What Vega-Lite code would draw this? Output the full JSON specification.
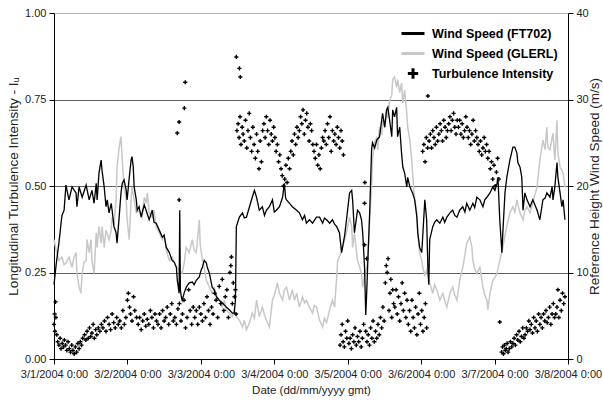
{
"$schema": "https://vega.github.io/schema/vega-lite/v6.json",
"width": 514, "height": 346,
"autosize": {"type": "none"},
"padding": {"left": 54, "top": 13, "right": 35, "bottom": 44},
"background": "white",
"config": {
  "view": {"stroke": null},
  "font": "Liberation Sans",
  "axis": {"domainColor": "black", "tickColor": "black", "labelColor": "#222", "titleColor": "#222", "labelFont": "Liberation Sans", "titleFont": "Liberation Sans", "titleFontWeight": "normal", "labelFontSize": 11, "tickSize": 5, "domainWidth": 1, "tickWidth": 1, "labelPadding": 3},
  "legend": {"orient": "none", "legendX": 346, "legendY": 7.5, "symbolSize": 529, "symbolStrokeWidth": 3, "labelFont": "Liberation Sans", "labelFontSize": 12.5, "labelFontWeight": "bold", "labelColor": "black", "labelOffset": 6, "rowPadding": 0, "padding": 0, "labelLimit": 300}
},
"datasets": {
"ft": [{"h":0,"v":8.6},{"h":0.7,"v":10.9},{"h":1.6,"v":13.4},{"h":2.6,"v":16.6},{"h":3.3,"v":17.2},{"h":3.9,"v":20.1},{"h":4.9,"v":18.4},{"h":5.9,"v":19.9},{"h":7.2,"v":19.2},{"h":7.5,"v":17.6},{"h":8.2,"v":19.9},{"h":9.2,"v":18.7},{"h":10.5,"v":20.1},{"h":11.5,"v":18.4},{"h":12.4,"v":19.5},{"h":13.1,"v":18.0},{"h":13.8,"v":20.3},{"h":14.1,"v":18.4},{"h":14.7,"v":21.5},{"h":15.4,"v":23.0},{"h":15.7,"v":21.8},{"h":16.4,"v":19.9},{"h":17.0,"v":17.6},{"h":17.4,"v":18.4},{"h":18.0,"v":16.9},{"h":18.7,"v":18.0},{"h":19.0,"v":17.2},{"h":19.6,"v":15.3},{"h":20.3,"v":14.6},{"h":20.6,"v":13.4},{"h":21.3,"v":16.4},{"h":21.9,"v":19.2},{"h":22.3,"v":20.3},{"h":22.9,"v":20.7},{"h":23.6,"v":19.5},{"h":23.9,"v":18.4},{"h":24.6,"v":21.0},{"h":25.2,"v":23.0},{"h":25.5,"v":23.4},{"h":25.9,"v":22.2},{"h":26.2,"v":19.9},{"h":26.9,"v":18.4},{"h":27.2,"v":17.2},{"h":27.8,"v":17.6},{"h":28.5,"v":16.4},{"h":28.8,"v":16.9},{"h":29.5,"v":17.8},{"h":30.1,"v":17.2},{"h":31.1,"v":16.1},{"h":32.1,"v":17.2},{"h":32.7,"v":15.8},{"h":33.4,"v":15.7},{"h":34.4,"v":14.9},{"h":35.4,"v":14.1},{"h":36.0,"v":14.3},{"h":36.7,"v":12.9},{"h":37.7,"v":12.3},{"h":38.6,"v":11.4},{"h":39.3,"v":11.2},{"h":40.0,"v":10.6},{"h":40.3,"v":9.1},{"h":40.9,"v":7.6},{"h":41.1,"v":17.2},{"h":41.3,"v":8.0},{"h":41.6,"v":7.2},{"h":41.9,"v":6.8},{"h":42.6,"v":7.7},{"h":43.2,"v":8.3},{"h":44.2,"v":8.8},{"h":45.2,"v":8.9},{"h":45.8,"v":8.6},{"h":46.5,"v":9.1},{"h":47.5,"v":9.5},{"h":48.1,"v":10.3},{"h":48.5,"v":10.6},{"h":49.1,"v":11.4},{"h":49.8,"v":11.1},{"h":50.1,"v":10.6},{"h":50.8,"v":9.9},{"h":51.7,"v":8.3},{"h":52.4,"v":8.0},{"h":53.1,"v":7.2},{"h":54.0,"v":6.8},{"h":55.0,"v":6.5},{"h":56.3,"v":6.0},{"h":57.3,"v":5.7},{"h":58.3,"v":5.3},{"h":58.9,"v":5.3},{"h":59.3,"v":6.8},{"h":59.6,"v":15.3},{"h":60.6,"v":16.4},{"h":61.6,"v":16.9},{"h":62.2,"v":16.3},{"h":62.9,"v":16.4},{"h":63.9,"v":17.6},{"h":64.8,"v":18.7},{"h":65.5,"v":19.5},{"h":66.2,"v":18.7},{"h":67.1,"v":17.2},{"h":68.1,"v":17.6},{"h":68.8,"v":16.6},{"h":69.4,"v":17.2},{"h":70.4,"v":17.6},{"h":71.4,"v":18.4},{"h":72.0,"v":17.0},{"h":72.7,"v":17.2},{"h":73.7,"v":17.6},{"h":74.7,"v":18.7},{"h":75.3,"v":20.3},{"h":75.7,"v":18.6},{"h":76.0,"v":18.4},{"h":77.0,"v":18.0},{"h":77.9,"v":17.6},{"h":79.3,"v":17.2},{"h":80.2,"v":16.9},{"h":81.2,"v":16.1},{"h":81.9,"v":16.6},{"h":82.5,"v":15.7},{"h":83.5,"v":16.1},{"h":84.5,"v":15.7},{"h":85.8,"v":16.4},{"h":86.8,"v":16.4},{"h":87.8,"v":15.7},{"h":88.4,"v":16.3},{"h":89.1,"v":16.1},{"h":90.1,"v":15.7},{"h":91.0,"v":16.1},{"h":91.7,"v":15.6},{"h":92.4,"v":15.3},{"h":93.3,"v":14.6},{"h":94.0,"v":12.3},{"h":94.3,"v":12.9},{"h":95.0,"v":14.3},{"h":95.6,"v":16.1},{"h":96.6,"v":19.2},{"h":97.3,"v":19.5},{"h":97.6,"v":18.4},{"h":98.2,"v":14.6},{"h":98.9,"v":16.4},{"h":99.2,"v":17.2},{"h":99.9,"v":16.9},{"h":100.5,"v":16.1},{"h":100.9,"v":14.6},{"h":101.5,"v":10.6},{"h":101.9,"v":5.1},{"h":102.2,"v":7.6},{"h":102.5,"v":10.6},{"h":103.2,"v":17.2},{"h":103.8,"v":24.2},{"h":104.1,"v":25.0},{"h":104.8,"v":24.4},{"h":105.5,"v":25.3},{"h":106.4,"v":25.7},{"h":107.1,"v":27.6},{"h":107.4,"v":28.4},{"h":108.1,"v":26.8},{"h":108.7,"v":28.8},{"h":109.1,"v":29.1},{"h":109.7,"v":27.6},{"h":110.4,"v":25.7},{"h":110.7,"v":28.8},{"h":111.3,"v":28.0},{"h":112.0,"v":29.1},{"h":112.3,"v":25.7},{"h":113.0,"v":26.8},{"h":113.6,"v":23.8},{"h":114.0,"v":22.2},{"h":114.6,"v":21.5},{"h":115.3,"v":19.9},{"h":115.6,"v":21.0},{"h":116.3,"v":19.9},{"h":117.2,"v":19.2},{"h":117.9,"v":18.4},{"h":118.6,"v":16.4},{"h":118.9,"v":14.6},{"h":119.5,"v":12.9},{"h":120.2,"v":12.3},{"h":120.5,"v":14.1},{"h":121.2,"v":18.4},{"h":121.8,"v":16.1},{"h":122.2,"v":10.6},{"h":122.5,"v":8.6},{"h":122.8,"v":13.8},{"h":123.8,"v":15.3},{"h":124.4,"v":15.8},{"h":125.1,"v":16.1},{"h":126.1,"v":15.7},{"h":127.1,"v":16.4},{"h":127.7,"v":15.8},{"h":128.4,"v":16.4},{"h":129.4,"v":16.9},{"h":130.3,"v":17.2},{"h":131.0,"v":16.6},{"h":131.7,"v":16.4},{"h":132.6,"v":17.2},{"h":133.6,"v":17.6},{"h":134.3,"v":17.0},{"h":134.9,"v":18.0},{"h":135.9,"v":17.2},{"h":136.9,"v":18.0},{"h":137.5,"v":17.5},{"h":138.2,"v":18.7},{"h":139.2,"v":18.4},{"h":140.2,"v":17.6},{"h":140.8,"v":18.4},{"h":141.5,"v":18.7},{"h":142.5,"v":19.2},{"h":143.4,"v":19.9},{"h":144.1,"v":19.5},{"h":144.8,"v":20.3},{"h":145.1,"v":21.0},{"h":145.7,"v":16.1},{"h":146.4,"v":12.3},{"h":146.7,"v":14.6},{"h":147.4,"v":19.2},{"h":148.0,"v":21.0},{"h":149.0,"v":23.0},{"h":150.0,"v":24.5},{"h":150.6,"v":24.5},{"h":151.3,"v":23.8},{"h":151.6,"v":22.7},{"h":152.3,"v":22.2},{"h":152.9,"v":21.0},{"h":153.3,"v":17.2},{"h":153.9,"v":19.2},{"h":154.6,"v":18.4},{"h":155.6,"v":17.6},{"h":156.5,"v":18.4},{"h":157.2,"v":17.8},{"h":157.9,"v":17.2},{"h":158.8,"v":16.1},{"h":159.8,"v":18.4},{"h":160.5,"v":18.6},{"h":161.1,"v":19.2},{"h":162.1,"v":18.7},{"h":162.8,"v":19.9},{"h":163.1,"v":18.4},{"h":163.7,"v":19.9},{"h":164.4,"v":22.7},{"h":164.7,"v":21.0},{"h":165.4,"v":19.2},{"h":166.0,"v":17.6},{"h":166.4,"v":18.4},{"h":167.0,"v":16.1}],
"gl": [{"h":0,"v":13.8},{"h":0.7,"v":12.6},{"h":1.6,"v":11.4},{"h":2.6,"v":11.8},{"h":3.3,"v":10.9},{"h":3.9,"v":11.1},{"h":4.9,"v":11.8},{"h":5.9,"v":10.6},{"h":6.5,"v":11.7},{"h":7.2,"v":12.3},{"h":7.5,"v":9.9},{"h":8.2,"v":8.3},{"h":8.8,"v":7.6},{"h":9.2,"v":9.9},{"h":9.8,"v":11.2},{"h":10.5,"v":11.4},{"h":10.8,"v":13.8},{"h":11.5,"v":12.3},{"h":12.1,"v":13.8},{"h":12.4,"v":11.4},{"h":13.1,"v":9.9},{"h":13.8,"v":14.6},{"h":14.1,"v":12.9},{"h":14.7,"v":15.3},{"h":15.4,"v":13.4},{"h":15.7,"v":15.3},{"h":16.4,"v":12.9},{"h":17.0,"v":14.9},{"h":18.0,"v":13.8},{"h":18.7,"v":14.9},{"h":19.0,"v":16.4},{"h":19.6,"v":15.5},{"h":20.3,"v":18.4},{"h":20.6,"v":22.2},{"h":21.3,"v":24.5},{"h":21.9,"v":25.7},{"h":22.3,"v":23.0},{"h":22.9,"v":19.9},{"h":23.6,"v":18.4},{"h":23.9,"v":16.1},{"h":24.6,"v":13.8},{"h":25.2,"v":18.4},{"h":25.5,"v":19.9},{"h":26.2,"v":18.4},{"h":26.9,"v":16.9},{"h":27.8,"v":17.2},{"h":28.8,"v":16.4},{"h":29.5,"v":18.7},{"h":30.1,"v":18.0},{"h":30.5,"v":19.2},{"h":31.1,"v":16.9},{"h":32.1,"v":16.4},{"h":32.7,"v":17.2},{"h":33.4,"v":15.3},{"h":34.4,"v":14.6},{"h":35.4,"v":13.8},{"h":36.0,"v":14.3},{"h":36.7,"v":12.6},{"h":37.7,"v":11.4},{"h":38.6,"v":11.8},{"h":39.3,"v":11.2},{"h":40.0,"v":10.6},{"h":40.9,"v":10.3},{"h":41.9,"v":9.9},{"h":42.6,"v":11.2},{"h":43.2,"v":12.9},{"h":44.2,"v":12.3},{"h":45.2,"v":13.8},{"h":45.8,"v":12.6},{"h":46.5,"v":12.3},{"h":47.2,"v":14.9},{"h":47.5,"v":16.1},{"h":47.8,"v":13.2},{"h":48.5,"v":11.4},{"h":49.1,"v":10.5},{"h":49.8,"v":9.1},{"h":50.8,"v":8.3},{"h":51.7,"v":7.6},{"h":52.4,"v":8.2},{"h":53.1,"v":7.2},{"h":54.0,"v":6.8},{"h":55.0,"v":6.0},{"h":55.7,"v":6.8},{"h":56.3,"v":5.7},{"h":57.3,"v":5.3},{"h":58.3,"v":4.9},{"h":58.9,"v":5.7},{"h":59.6,"v":4.9},{"h":60.6,"v":4.5},{"h":61.6,"v":3.7},{"h":62.2,"v":4.5},{"h":62.9,"v":3.4},{"h":63.9,"v":4.2},{"h":64.8,"v":5.3},{"h":65.5,"v":4.7},{"h":66.2,"v":6.8},{"h":67.1,"v":4.9},{"h":68.1,"v":6.0},{"h":68.8,"v":5.1},{"h":69.4,"v":4.5},{"h":70.4,"v":3.7},{"h":71.4,"v":6.8},{"h":72.0,"v":7.4},{"h":72.7,"v":8.3},{"h":73.0,"v":8.8},{"h":73.7,"v":7.6},{"h":74.7,"v":6.8},{"h":75.3,"v":8.0},{"h":76.0,"v":8.3},{"h":77.0,"v":6.8},{"h":77.9,"v":8.0},{"h":78.6,"v":6.8},{"h":79.3,"v":7.6},{"h":80.2,"v":6.0},{"h":81.2,"v":7.2},{"h":81.9,"v":6.5},{"h":82.5,"v":6.8},{"h":83.5,"v":6.0},{"h":84.5,"v":5.3},{"h":85.1,"v":6.2},{"h":85.8,"v":6.0},{"h":86.8,"v":4.5},{"h":87.8,"v":3.7},{"h":88.4,"v":4.7},{"h":89.1,"v":4.2},{"h":90.1,"v":5.7},{"h":91.0,"v":6.8},{"h":91.7,"v":6.0},{"h":92.4,"v":9.5},{"h":92.7,"v":11.4},{"h":93.3,"v":11.8},{"h":94.3,"v":12.9},{"h":95.0,"v":13.8},{"h":95.6,"v":14.6},{"h":96.0,"v":15.3},{"h":96.6,"v":16.4},{"h":97.3,"v":15.3},{"h":97.6,"v":12.9},{"h":98.2,"v":14.6},{"h":98.9,"v":12.3},{"h":99.2,"v":11.4},{"h":99.9,"v":10.6},{"h":100.5,"v":9.9},{"h":100.9,"v":8.3},{"h":101.5,"v":9.5},{"h":102.2,"v":10.6},{"h":102.5,"v":11.4},{"h":103.2,"v":16.1},{"h":103.8,"v":19.9},{"h":104.1,"v":23.0},{"h":104.8,"v":25.0},{"h":105.5,"v":25.7},{"h":105.8,"v":24.2},{"h":106.4,"v":26.8},{"h":107.1,"v":25.9},{"h":107.4,"v":27.6},{"h":108.1,"v":26.7},{"h":108.7,"v":28.8},{"h":109.1,"v":27.9},{"h":109.7,"v":29.9},{"h":110.4,"v":30.5},{"h":110.7,"v":32.3},{"h":111.3,"v":32.6},{"h":112.0,"v":31.4},{"h":112.3,"v":32.3},{"h":113.0,"v":30.8},{"h":113.6,"v":31.9},{"h":114.0,"v":29.6},{"h":114.6,"v":31.1},{"h":115.3,"v":28.4},{"h":115.6,"v":26.8},{"h":116.3,"v":25.3},{"h":116.9,"v":23.0},{"h":117.2,"v":21.5},{"h":117.9,"v":18.4},{"h":118.6,"v":16.9},{"h":118.9,"v":14.6},{"h":119.5,"v":12.3},{"h":120.2,"v":11.4},{"h":120.5,"v":10.6},{"h":121.2,"v":9.7},{"h":121.8,"v":10.3},{"h":122.8,"v":8.8},{"h":123.8,"v":7.6},{"h":124.4,"v":8.6},{"h":125.1,"v":8.0},{"h":126.1,"v":6.8},{"h":127.1,"v":7.6},{"h":127.7,"v":6.8},{"h":128.4,"v":6.0},{"h":129.4,"v":7.6},{"h":130.3,"v":8.3},{"h":131.0,"v":7.4},{"h":131.7,"v":6.8},{"h":132.6,"v":9.1},{"h":133.6,"v":10.6},{"h":134.3,"v":12.0},{"h":134.9,"v":13.4},{"h":135.9,"v":14.1},{"h":136.6,"v":12.9},{"h":136.9,"v":11.4},{"h":137.5,"v":10.5},{"h":138.2,"v":9.9},{"h":139.2,"v":10.6},{"h":140.2,"v":8.3},{"h":140.8,"v":7.4},{"h":141.5,"v":6.8},{"h":141.8,"v":5.7},{"h":142.5,"v":7.6},{"h":143.4,"v":9.1},{"h":144.1,"v":9.4},{"h":144.8,"v":9.9},{"h":145.7,"v":11.4},{"h":146.7,"v":12.9},{"h":147.4,"v":14.3},{"h":148.0,"v":15.3},{"h":149.0,"v":16.9},{"h":150.0,"v":17.6},{"h":150.6,"v":17.0},{"h":151.3,"v":18.4},{"h":152.3,"v":16.9},{"h":153.3,"v":16.1},{"h":153.9,"v":17.2},{"h":154.6,"v":17.6},{"h":155.6,"v":16.9},{"h":156.5,"v":18.0},{"h":157.2,"v":19.0},{"h":157.9,"v":19.9},{"h":158.8,"v":23.0},{"h":159.8,"v":25.3},{"h":160.5,"v":24.2},{"h":161.1,"v":26.8},{"h":161.4,"v":24.5},{"h":162.1,"v":24.2},{"h":163.1,"v":26.1},{"h":163.7,"v":23.0},{"h":164.4,"v":27.6},{"h":164.7,"v":23.8},{"h":165.4,"v":22.2},{"h":166.4,"v":21.5},{"h":167.0,"v":19.9}],
"ti": [{"h":0.0,"v":0.10},{"h":0.2,"v":0.13},{"h":0.3,"v":0.08},{"h":0.5,"v":0.165},{"h":0.6,"v":0.12},{"h":0.9,"v":0.07},{"h":1.2,"v":0.05},{"h":1.6,"v":0.04},{"h":2.0,"v":0.06},{"h":2.3,"v":0.03},{"h":2.7,"v":0.045},{"h":3.1,"v":0.035},{"h":3.4,"v":0.055},{"h":3.8,"v":0.04},{"h":4.2,"v":0.025},{"h":4.6,"v":0.05},{"h":5.0,"v":0.03},{"h":5.4,"v":0.02},{"h":5.8,"v":0.04},{"h":6.2,"v":0.025},{"h":6.6,"v":0.015},{"h":7.0,"v":0.035},{"h":7.4,"v":0.02},{"h":7.8,"v":0.045},{"h":8.2,"v":0.03},{"h":8.6,"v":0.05},{"h":9.0,"v":0.04},{"h":9.4,"v":0.06},{"h":10.0,"v":0.07},{"h":10.4,"v":0.055},{"h":10.8,"v":0.08},{"h":11.2,"v":0.06},{"h":11.6,"v":0.09},{"h":12.0,"v":0.065},{"h":12.4,"v":0.075},{"h":12.8,"v":0.1},{"h":13.2,"v":0.06},{"h":13.6,"v":0.085},{"h":14.0,"v":0.07},{"h":14.5,"v":0.09},{"h":15.0,"v":0.08},{"h":15.5,"v":0.1},{"h":16.0,"v":0.09},{"h":16.5,"v":0.11},{"h":17.0,"v":0.08},{"h":17.5,"v":0.12},{"h":18.0,"v":0.1},{"h":18.5,"v":0.085},{"h":19.0,"v":0.13},{"h":19.5,"v":0.105},{"h":20.0,"v":0.09},{"h":20.5,"v":0.12},{"h":21.0,"v":0.1},{"h":21.5,"v":0.11},{"h":22.0,"v":0.09},{"h":22.5,"v":0.14},{"h":23.0,"v":0.1},{"h":23.5,"v":0.12},{"h":24.0,"v":0.17},{"h":24.3,"v":0.19},{"h":24.7,"v":0.15},{"h":25.0,"v":0.13},{"h":25.5,"v":0.11},{"h":26.0,"v":0.18},{"h":26.4,"v":0.14},{"h":27.0,"v":0.12},{"h":27.5,"v":0.1},{"h":28.0,"v":0.12},{"h":28.5,"v":0.085},{"h":29.0,"v":0.11},{"h":29.5,"v":0.13},{"h":30.0,"v":0.095},{"h":30.5,"v":0.115},{"h":31.0,"v":0.1},{"h":31.5,"v":0.14},{"h":32.0,"v":0.12},{"h":32.5,"v":0.09},{"h":33.0,"v":0.13},{"h":33.5,"v":0.11},{"h":34.0,"v":0.1},{"h":34.5,"v":0.13},{"h":35.0,"v":0.09},{"h":35.5,"v":0.14},{"h":36.0,"v":0.11},{"h":36.5,"v":0.12},{"h":37.0,"v":0.15},{"h":37.5,"v":0.1},{"h":38.0,"v":0.13},{"h":38.5,"v":0.16},{"h":39.0,"v":0.11},{"h":39.5,"v":0.12},{"h":40.0,"v":0.1},{"h":40.5,"v":0.145},{"h":41.0,"v":0.16},{"h":41.5,"v":0.11},{"h":42.0,"v":0.13},{"h":42.5,"v":0.17},{"h":43.0,"v":0.09},{"h":43.5,"v":0.12},{"h":44.0,"v":0.2},{"h":44.5,"v":0.14},{"h":45.0,"v":0.1},{"h":45.5,"v":0.15},{"h":46.0,"v":0.12},{"h":46.5,"v":0.14},{"h":47.0,"v":0.1},{"h":47.5,"v":0.15},{"h":48.0,"v":0.13},{"h":48.5,"v":0.11},{"h":49.0,"v":0.16},{"h":49.5,"v":0.12},{"h":50.0,"v":0.18},{"h":50.5,"v":0.14},{"h":51.0,"v":0.1},{"h":51.5,"v":0.15},{"h":52.0,"v":0.13},{"h":52.5,"v":0.19},{"h":53.0,"v":0.17},{"h":53.5,"v":0.12},{"h":54.0,"v":0.21},{"h":54.5,"v":0.16},{"h":55.0,"v":0.23},{"h":55.5,"v":0.14},{"h":56.0,"v":0.18},{"h":56.5,"v":0.2},{"h":57.0,"v":0.12},{"h":57.5,"v":0.25},{"h":57.8,"v":0.27},{"h":58.0,"v":0.295},{"h":58.3,"v":0.16},{"h":58.6,"v":0.22},{"h":59.0,"v":0.18},{"h":59.3,"v":0.2},{"h":59.5,"v":0.13},{"h":40.3,"v":0.653},{"h":40.9,"v":0.685},{"h":40.9,"v":0.46},{"h":42.6,"v":0.725},{"h":42.9,"v":0.80},{"h":59.6,"v":0.873},{"h":60.6,"v":0.84},{"h":60.9,"v":0.815},{"h":59.8,"v":0.66},{"h":60.2,"v":0.68},{"h":60.5,"v":0.64},{"h":60.8,"v":0.7},{"h":61.1,"v":0.62},{"h":61.5,"v":0.67},{"h":61.8,"v":0.65},{"h":62.2,"v":0.63},{"h":62.6,"v":0.69},{"h":63.0,"v":0.61},{"h":63.4,"v":0.66},{"h":63.8,"v":0.71},{"h":64.2,"v":0.64},{"h":64.6,"v":0.6},{"h":65.0,"v":0.67},{"h":65.4,"v":0.62},{"h":65.8,"v":0.58},{"h":66.2,"v":0.65},{"h":66.6,"v":0.6},{"h":67.0,"v":0.55},{"h":67.4,"v":0.63},{"h":67.8,"v":0.57},{"h":68.2,"v":0.66},{"h":68.6,"v":0.68},{"h":69.0,"v":0.64},{"h":69.4,"v":0.7},{"h":69.8,"v":0.66},{"h":70.2,"v":0.62},{"h":70.6,"v":0.69},{"h":71.0,"v":0.65},{"h":71.4,"v":0.63},{"h":71.8,"v":0.67},{"h":72.2,"v":0.64},{"h":72.6,"v":0.6},{"h":73.0,"v":0.62},{"h":73.4,"v":0.57},{"h":73.8,"v":0.59},{"h":74.2,"v":0.55},{"h":74.6,"v":0.53},{"h":75.0,"v":0.5},{"h":75.4,"v":0.52},{"h":75.8,"v":0.56},{"h":76.2,"v":0.51},{"h":76.6,"v":0.58},{"h":77.0,"v":0.55},{"h":77.4,"v":0.6},{"h":77.8,"v":0.63},{"h":78.2,"v":0.59},{"h":78.6,"v":0.65},{"h":79.0,"v":0.62},{"h":79.4,"v":0.67},{"h":79.8,"v":0.64},{"h":80.2,"v":0.66},{"h":80.6,"v":0.7},{"h":81.0,"v":0.68},{"h":81.4,"v":0.72},{"h":81.8,"v":0.65},{"h":82.2,"v":0.69},{"h":82.6,"v":0.71},{"h":83.0,"v":0.67},{"h":83.4,"v":0.63},{"h":83.8,"v":0.68},{"h":84.2,"v":0.66},{"h":84.6,"v":0.62},{"h":85.0,"v":0.6},{"h":85.4,"v":0.58},{"h":85.8,"v":0.62},{"h":86.2,"v":0.56},{"h":86.6,"v":0.59},{"h":87.0,"v":0.55},{"h":87.4,"v":0.61},{"h":87.8,"v":0.64},{"h":88.2,"v":0.63},{"h":88.6,"v":0.66},{"h":89.0,"v":0.62},{"h":89.4,"v":0.68},{"h":89.8,"v":0.64},{"h":90.2,"v":0.7},{"h":90.6,"v":0.6},{"h":91.0,"v":0.66},{"h":91.4,"v":0.63},{"h":91.8,"v":0.65},{"h":92.2,"v":0.62},{"h":92.6,"v":0.67},{"h":93.0,"v":0.64},{"h":93.4,"v":0.61},{"h":93.8,"v":0.66},{"h":94.2,"v":0.63},{"h":94.6,"v":0.59},{"h":93.5,"v":0.04},{"h":93.8,"v":0.07},{"h":94.2,"v":0.1},{"h":94.5,"v":0.05},{"h":94.9,"v":0.035},{"h":95.3,"v":0.08},{"h":95.7,"v":0.06},{"h":96.0,"v":0.11},{"h":96.4,"v":0.045},{"h":96.8,"v":0.06},{"h":97.2,"v":0.03},{"h":97.6,"v":0.07},{"h":98.0,"v":0.05},{"h":98.4,"v":0.09},{"h":98.8,"v":0.04},{"h":99.2,"v":0.065},{"h":99.6,"v":0.05},{"h":100.0,"v":0.08},{"h":100.4,"v":0.035},{"h":100.8,"v":0.06},{"h":101.2,"v":0.1},{"h":101.5,"v":0.33},{"h":101.5,"v":0.45},{"h":101.6,"v":0.51},{"h":102.2,"v":0.29},{"h":101.9,"v":0.08},{"h":102.3,"v":0.05},{"h":102.7,"v":0.07},{"h":103.1,"v":0.04},{"h":103.5,"v":0.09},{"h":103.9,"v":0.06},{"h":104.3,"v":0.11},{"h":104.7,"v":0.05},{"h":105.1,"v":0.08},{"h":105.5,"v":0.06},{"h":105.9,"v":0.1},{"h":106.3,"v":0.07},{"h":106.7,"v":0.12},{"h":107.1,"v":0.09},{"h":107.5,"v":0.15},{"h":107.9,"v":0.11},{"h":108.3,"v":0.22},{"h":108.6,"v":0.27},{"h":108.9,"v":0.25},{"h":109.2,"v":0.29},{"h":109.5,"v":0.14},{"h":109.8,"v":0.19},{"h":110.1,"v":0.23},{"h":110.4,"v":0.12},{"h":110.7,"v":0.2},{"h":111.0,"v":0.16},{"h":111.4,"v":0.15},{"h":111.8,"v":0.2},{"h":112.2,"v":0.13},{"h":112.6,"v":0.18},{"h":113.0,"v":0.11},{"h":113.4,"v":0.16},{"h":113.8,"v":0.22},{"h":114.2,"v":0.14},{"h":114.6,"v":0.19},{"h":115.0,"v":0.12},{"h":115.4,"v":0.17},{"h":115.8,"v":0.1},{"h":116.2,"v":0.14},{"h":116.6,"v":0.08},{"h":117.0,"v":0.17},{"h":117.4,"v":0.12},{"h":117.8,"v":0.09},{"h":118.2,"v":0.15},{"h":118.6,"v":0.07},{"h":119.0,"v":0.13},{"h":119.4,"v":0.19},{"h":119.8,"v":0.1},{"h":120.2,"v":0.14},{"h":120.6,"v":0.08},{"h":121.0,"v":0.12},{"h":121.4,"v":0.16},{"h":121.8,"v":0.09},{"h":120.5,"v":0.6},{"h":120.9,"v":0.62},{"h":121.3,"v":0.57},{"h":121.7,"v":0.64},{"h":122.1,"v":0.61},{"h":122.2,"v":0.76},{"h":122.6,"v":0.63},{"h":123.0,"v":0.65},{"h":123.4,"v":0.61},{"h":123.8,"v":0.66},{"h":124.2,"v":0.64},{"h":124.6,"v":0.62},{"h":125.0,"v":0.67},{"h":125.4,"v":0.63},{"h":125.8,"v":0.65},{"h":126.2,"v":0.68},{"h":126.6,"v":0.66},{"h":127.0,"v":0.63},{"h":127.4,"v":0.69},{"h":127.8,"v":0.67},{"h":128.2,"v":0.64},{"h":128.6,"v":0.66},{"h":129.0,"v":0.68},{"h":129.4,"v":0.7},{"h":129.8,"v":0.66},{"h":130.2,"v":0.69},{"h":130.6,"v":0.71},{"h":131.0,"v":0.67},{"h":131.4,"v":0.65},{"h":131.8,"v":0.69},{"h":132.2,"v":0.67},{"h":132.6,"v":0.69},{"h":133.0,"v":0.65},{"h":133.4,"v":0.68},{"h":133.8,"v":0.64},{"h":134.2,"v":0.66},{"h":134.6,"v":0.7},{"h":135.0,"v":0.67},{"h":135.4,"v":0.64},{"h":135.8,"v":0.66},{"h":136.2,"v":0.62},{"h":136.6,"v":0.65},{"h":137.0,"v":0.69},{"h":137.4,"v":0.63},{"h":137.8,"v":0.66},{"h":138.2,"v":0.64},{"h":138.6,"v":0.62},{"h":139.0,"v":0.6},{"h":139.4,"v":0.63},{"h":139.8,"v":0.59},{"h":140.2,"v":0.61},{"h":140.6,"v":0.64},{"h":141.0,"v":0.6},{"h":141.4,"v":0.62},{"h":141.8,"v":0.58},{"h":142.2,"v":0.6},{"h":142.6,"v":0.55},{"h":143.0,"v":0.57},{"h":143.4,"v":0.52},{"h":143.8,"v":0.56},{"h":144.2,"v":0.5},{"h":144.6,"v":0.54},{"h":145.0,"v":0.58},{"h":145.4,"v":0.52},{"h":145.7,"v":0.107},{"h":146.3,"v":0.02},{"h":146.6,"v":0.035},{"h":146.9,"v":0.015},{"h":147.2,"v":0.04},{"h":147.5,"v":0.025},{"h":147.8,"v":0.03},{"h":148.1,"v":0.045},{"h":148.4,"v":0.02},{"h":148.8,"v":0.03},{"h":149.2,"v":0.05},{"h":149.6,"v":0.035},{"h":150.0,"v":0.045},{"h":150.4,"v":0.06},{"h":150.8,"v":0.04},{"h":151.2,"v":0.07},{"h":151.6,"v":0.055},{"h":152.0,"v":0.08},{"h":152.4,"v":0.05},{"h":152.8,"v":0.065},{"h":153.2,"v":0.09},{"h":153.6,"v":0.06},{"h":154.0,"v":0.07},{"h":154.4,"v":0.09},{"h":154.8,"v":0.08},{"h":155.2,"v":0.11},{"h":155.6,"v":0.085},{"h":156.0,"v":0.1},{"h":156.4,"v":0.075},{"h":156.8,"v":0.12},{"h":157.2,"v":0.09},{"h":157.6,"v":0.11},{"h":158.0,"v":0.08},{"h":158.4,"v":0.13},{"h":158.8,"v":0.1},{"h":159.2,"v":0.12},{"h":159.6,"v":0.09},{"h":160.0,"v":0.13},{"h":160.4,"v":0.11},{"h":160.8,"v":0.14},{"h":161.2,"v":0.105},{"h":161.6,"v":0.12},{"h":162.0,"v":0.15},{"h":162.4,"v":0.1},{"h":162.8,"v":0.13},{"h":163.2,"v":0.16},{"h":163.6,"v":0.12},{"h":164.0,"v":0.13},{"h":164.4,"v":0.15},{"h":164.7,"v":0.2},{"h":165.0,"v":0.12},{"h":165.4,"v":0.17},{"h":165.8,"v":0.14},{"h":166.2,"v":0.19},{"h":166.6,"v":0.16},{"h":167.0,"v":0.18}]
},
"encoding": {
  "x": {"field": "h", "type": "quantitative", "scale": {"domain": [0, 168], "nice": false, "zero": false},
        "axis": {"values": [0, 24, 48, 72, 96, 120, 144, 168], "labelExpr": "'3/' + (datum.value/24+1) + '/2004 0:00'", "title": "Date (dd/mm/yyyy gmt)", "grid": false, "labelOverlap": false, "labelFlush": false, "titleFontSize": 11.5, "labelPadding": 4, "titlePadding": 5}}
},
"layer": [
  {"layer": [
    {"data": {"name": "gl"}, "mark": {"type": "line", "strokeWidth": 1.5},
     "encoding": {
       "y": {"field": "v", "type": "quantitative", "scale": {"domain": [0, 40], "nice": false},
             "axis": {"orient": "right", "values": [0, 10, 20, 30, 40], "grid": false, "title": "Reference Height Wind Speed (m/s)", "titleAngle": 270, "titleBaseline": "top", "titleFontSize": 13.5, "titlePadding": -1}},
       "color": {"datum": "Wind Speed (GLERL)", "type": "nominal",
                 "scale": {"domain": ["Wind Speed (FT702)", "Wind Speed (GLERL)", "Turbulence Intensity"], "range": ["black", "#c8c8c8", "black"]},
                 "legend": {"title": null}}
     }},
    {"data": {"name": "ft"}, "mark": {"type": "line", "strokeWidth": 1.3},
     "encoding": {
       "y": {"field": "v", "type": "quantitative"},
       "color": {"datum": "Wind Speed (FT702)", "type": "nominal"}
     }}
  ]},
  {"data": {"name": "ti"}, "mark": {"type": "point", "filled": false, "strokeWidth": 1.4, "size": 85, "opacity": 1},
   "encoding": {
     "y": {"field": "v", "type": "quantitative", "scale": {"domain": [0, 1], "nice": false},
           "axis": {"orient": "left", "values": [0, 0.25, 0.5, 0.75, 1], "format": ".2f", "grid": true,
                    "gridColor": {"condition": {"test": "datum.value == 1", "value": "#b4b4b4"}, "value": "#5f5f5f"},
                    "title": "Longitudinal Turbulence Intensity - Iᵤ", "titleFontSize": 13.5, "titlePadding": 4}},
     "color": {"datum": "Turbulence Intensity", "type": "nominal"},
     "shape": {"datum": "Turbulence Intensity", "type": "nominal",
               "scale": {"domain": ["Wind Speed (FT702)", "Wind Speed (GLERL)", "Turbulence Intensity"], "range": ["M-1,0H1", "M-1,0H1", "M-0.45,0H0.45M0,-0.45V0.45"]},
               "legend": {"title": null}}
   }}
],
"resolve": {"scale": {"y": "independent"}}
}
